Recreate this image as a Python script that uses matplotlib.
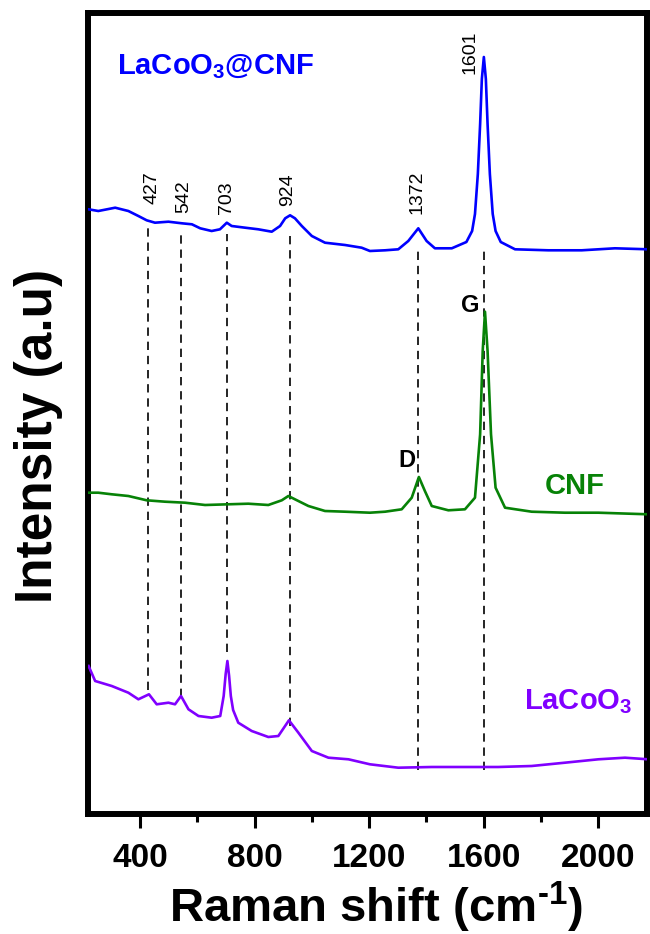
import matplotlib
matplotlib.use("Agg")
import matplotlib.pyplot as plt

plt.rcParams['font.family'] = ['Liberation Sans', 'DejaVu Sans']
plt.rcParams['mathtext.fontset'] = 'custom'
plt.rcParams['mathtext.rm'] = 'Liberation Sans:bold'
plt.rcParams['mathtext.bf'] = 'Liberation Sans:bold'

# ---- data (Raman shift cm-1, intensity a.u.) ----
lc_cnf_x = [220, 254, 313, 359, 394, 423, 452, 499, 546, 581, 610, 650, 679, 703, 720,
            767, 813, 860, 889, 907, 924, 941, 965, 1000, 1046, 1116, 1174, 1203, 1256,
            1302, 1337, 1372, 1401, 1430, 1489, 1540, 1560, 1570, 1580, 1588, 1594, 1601,
            1608, 1614, 1622, 1632, 1642, 1660, 1710, 1826, 1943, 2059, 2175]
lc_cnf_y = [604.7, 603, 606.3, 603, 598, 593.7, 591.3, 592.3, 590.7, 589.7, 585.7, 583, 584.7,
            591.3, 588, 586.3, 584.7, 582.3, 588, 595.7, 598.7, 595.7, 588, 578, 571.3, 569,
            566.3, 563, 563.7, 564.7, 573, 585.7, 573, 565.7, 565.7, 572, 583, 600, 640, 690,
            735, 757, 735, 690, 640, 600, 583, 572, 564.7, 563.7, 563.7, 565.7, 564.7]

cnf_x = [220, 254, 301, 359, 423, 487, 557, 627, 708, 778, 848, 895, 918, 941, 988, 1046,
         1116, 1203, 1256, 1314, 1349, 1374, 1395, 1419, 1477, 1535, 1570, 1588, 1597, 1605,
         1614, 1626, 1642, 1675, 1768, 1884, 2001, 2175]
cnf_y = [321.3, 321.3, 319.7, 318, 313.7, 312.3, 311.3, 309, 309.7, 310.3, 309, 313.7, 318,
         314.7, 308, 303, 302.3, 301.3, 302.3, 304.7, 316.3, 337, 323, 308, 303.7, 304.7,
         316.3, 379.7, 463, 502.3, 463, 379.7, 326.3, 306.3, 302.3, 301.3, 301.3, 299.7]

lc_x = [220, 243, 301, 359, 394, 431, 458, 499, 522, 543, 569, 604, 650, 680, 692, 699, 705,
        711, 717, 725, 743, 790, 848, 883, 920, 953, 1000, 1058, 1128, 1203, 1302, 1419,
        1535, 1651, 1768, 1884, 2001, 2094, 2175]
lc_y = [148, 133, 128, 121.3, 114.7, 119.7, 109.7, 111.3, 109.7, 118, 104.7, 98, 96.3, 98,
        118, 140, 153, 138, 118, 104, 91.3, 83, 77, 78, 93.7, 81.3, 63, 56.3, 54.7, 49.7,
        46.3, 47, 47, 47, 48, 51.3, 54.7, 56.3, 54.7]

peak_pos = [427, 542, 703, 924, 1372, 1601]
peak_line_top = [586, 580, 580, 580, 565, 565]
peak_line_bottom = [124, 117, 162, 88, 44, 44]
peak_label_x = [441, 551, 703, 917, 1366, 1553]
peak_label_y = [610, 601, 600, 608, 600, 740]

xticks = [400, 800, 1200, 1600, 2000]

c_blue = '#0000FF'
c_green = '#078207'
c_purple = '#8000FF'

fig = plt.figure(figsize=(6.5, 9.34), dpi=100)
ax = fig.add_axes([88/650, 1-814/934, (647-88)/650, (814-13)/934])

for p, t, b in zip(peak_pos, peak_line_top, peak_line_bottom):
    ax.plot([p, p], [b, t], color='black', lw=1.2, ls=(0, (5, 3.5)), zorder=1)

ax.plot(lc_cnf_x, lc_cnf_y, color=c_blue, lw=1.9, zorder=3)
ax.plot(cnf_x, cnf_y, color=c_green, lw=1.9, zorder=3)
ax.plot(lc_x, lc_y, color=c_purple, lw=1.9, zorder=3)

for p, lx, ly in zip(peak_pos, peak_label_x, peak_label_y):
    ax.text(lx, ly, str(p), rotation=90, ha='center', va='bottom', fontsize=14, color='black')

ax.text(320, 740, r'LaCoO$_{3}$@CNF', color=c_blue, fontsize=21, fontweight='bold',
        ha='left', va='baseline')
ax.text(1919, 320, 'CNF', color=c_green, fontsize=21, fontweight='bold',
        ha='center', va='baseline')
ax.text(1930, 105, r'LaCoO$_{3}$', color=c_purple, fontsize=21, fontweight='bold',
        ha='center', va='baseline')
ax.text(1331, 347, 'D', color='black', fontsize=17, fontweight='bold', ha='center', va='baseline')
ax.text(1553, 502, 'G', color='black', fontsize=17, fontweight='bold', ha='center', va='baseline')

ax.set_xlim(218, 2171)
ax.set_ylim(0, 801)
ax.set_xticks(xticks)
ax.set_xticks([600, 1000, 1400, 1800], minor=True)
ax.set_yticks([])
ax.tick_params(axis='x', which='major', length=10, width=2.2, direction='out', pad=11,
               labelsize=24)
ax.tick_params(axis='x', which='minor', length=6, width=2.2, direction='out')
for lbl in ax.get_xticklabels():
    lbl.set_fontweight('bold')
for s in ax.spines.values():
    s.set_linewidth(4.3)

fig.text(376/650, 1-922/934, r'Raman shift (cm$^{\text{-1}}$)', ha='center', va='baseline',
         fontsize=34, fontweight='bold')
fig.text(39/650, 1-436/934, 'Intensity (a.u)', rotation=90, ha='center', va='center',
         fontsize=37, fontweight='bold')

fig.savefig('out.png', dpi=100)
